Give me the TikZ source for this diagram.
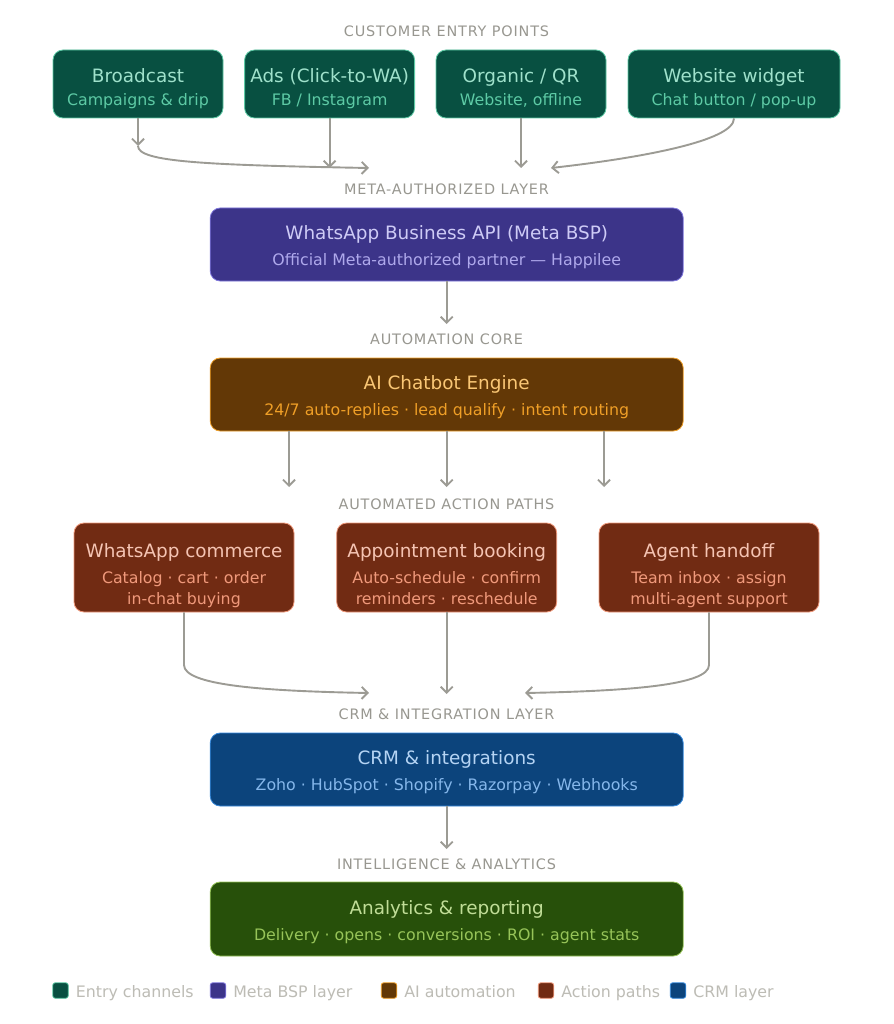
\documentclass[tikz,border=0pt]{standalone}
\usepackage{fontspec}
\setmainfont{DejaVu Sans}
\usetikzlibrary{arrows.meta}
\definecolor{entryfill}{HTML}{085041}
\definecolor{entryline}{HTML}{5DCAA5}
\definecolor{entrytitle}{HTML}{9FE1CB}
\definecolor{metafill}{HTML}{3C3489}
\definecolor{metaline}{HTML}{7F77DD}
\definecolor{metatitle}{HTML}{CECBF6}
\definecolor{metasub}{HTML}{AFA9EC}
\definecolor{corefill}{HTML}{633806}
\definecolor{coreline}{HTML}{EF9F27}
\definecolor{coretitle}{HTML}{FAC775}
\definecolor{pathfill}{HTML}{712B13}
\definecolor{pathline}{HTML}{F0997B}
\definecolor{pathtitle}{HTML}{F5C4B3}
\definecolor{crmfill}{HTML}{0C447C}
\definecolor{crmline}{HTML}{378ADD}
\definecolor{crmtitle}{HTML}{B5D4F4}
\definecolor{crmsub}{HTML}{85B7EB}
\definecolor{statfill}{HTML}{27500A}
\definecolor{statline}{HTML}{97C459}
\definecolor{stattitle}{HTML}{C0DD97}
\definecolor{seclabel}{HTML}{989790}
\definecolor{keylabel}{HTML}{BDBCB5}
\definecolor{flowline}{HTML}{9C9B94}
\newcommand{\boxhead}[3]{{\rule[-5pt]{0pt}{#1}\fontsize{18.4}{21}\selectfont\color{#2}#3}}
\tikzset{
  card/.style n args={3}{draw=#2,fill=#1,text=#3,font=\fontsize{15.8}{21}\selectfont,line width=.8pt,rounded corners=10pt,align=center,inner sep=0pt,anchor=center,execute at end node=\rule[-5pt]{0pt}{5pt}},
  seclab/.style={text=seclabel,font=\fontsize{14.4}{16}\selectfont\addfontfeatures{LetterSpace=5.8}},
  keybox/.style 2 args={draw=#2,fill=#1,line width=.8pt,rounded corners=2.5pt,minimum size=15.5pt,inner sep=0pt},
  keylab/.style={text=keylabel,anchor=west,inner sep=0pt,text height=12pt,text depth=3.5pt,xshift=7pt,yshift=-2.5pt,font=\fontsize{15.8}{17}\selectfont},
  flow/.style={draw=flowline,line width=1.9pt,-{Straight Barb[length=6pt,width=12pt,line width=1.9pt]}},
}
\begin{document}
\begin{tikzpicture}[x=1pt,y=-1pt]
  \useasboundingbox[fill=white](0,0)rectangle(893,1024);
  % section headings
  \node[seclab](secEntry)at(446.5,31){CUSTOMER ENTRY POINTS};
  \node[seclab](secMeta)at(446.5,189){META-AUTHORIZED LAYER};
  \node[seclab](secCore)at(446.5,339){AUTOMATION CORE};
  \node[seclab](secPath)at(446.5,504){AUTOMATED ACTION PATHS};
  \node[seclab](secCrm)at(446.5,714){CRM \& INTEGRATION LAYER};
  \node[seclab](secStat)at(446.5,864){INTELLIGENCE \& ANALYTICS};
  % entry channels
  \node[card={entryfill}{entryline}{entryline},minimum width=170pt,minimum height=68pt](nBroadcast)at(138,84){\boxhead{30pt}{entrytitle}{Broadcast}\\[2pt]Campaigns \& drip};
  \node[card={entryfill}{entryline}{entryline},minimum width=170pt,minimum height=68pt](nAds)at(329.6,84){\boxhead{30pt}{entrytitle}{Ads (Click-to-WA)}\\[2pt]FB / Instagram};
  \node[card={entryfill}{entryline}{entryline},minimum width=170pt,minimum height=68pt](nOrganic)at(521,84){\boxhead{30pt}{entrytitle}{Organic / QR}\\[2pt]Website, offline};
  \node[card={entryfill}{entryline}{entryline},minimum width=212pt,minimum height=68pt](nWidget)at(734,84){\boxhead{30pt}{entrytitle}{Website widget}\\[2pt]Chat button / pop-up};
  % wide layers
  \node[card={metafill}{metaline}{metasub},minimum width=473pt,minimum height=73pt](nApi)at(446.7,244.5){\boxhead{26pt}{metatitle}{WhatsApp Business API (Meta BSP)}\\[5pt]Official Meta-authorized partner — Happilee};
  \node[card={corefill}{coreline}{coreline},minimum width=473pt,minimum height=73pt](nEngine)at(446.7,394.5){\boxhead{26pt}{coretitle}{AI Chatbot Engine}\\[5pt]24/7 auto-replies · lead qualify · intent routing};
  % action paths
  \node[card={pathfill}{pathline}{pathline},minimum width=220pt,minimum height=89pt](nCommerce)at(184,567.5){\boxhead{37pt}{pathtitle}{WhatsApp commerce}\\[5pt]Catalog · cart · order\\in-chat buying};
  \node[card={pathfill}{pathline}{pathline},minimum width=220pt,minimum height=89pt](nBooking)at(446.7,567.5){\boxhead{37pt}{pathtitle}{Appointment booking}\\[5pt]Auto-schedule · confirm\\reminders · reschedule};
  \node[card={pathfill}{pathline}{pathline},minimum width=220pt,minimum height=89pt](nHandoff)at(709,567.5){\boxhead{37pt}{pathtitle}{Agent handoff}\\[5pt]Team inbox · assign\\multi-agent support};
  \node[card={crmfill}{crmline}{crmsub},minimum width=473pt,minimum height=73pt](nCrm)at(446.7,769.5){\boxhead{26pt}{crmtitle}{CRM \& integrations}\\[5pt]Zoho · HubSpot · Shopify · Razorpay · Webhooks};
  \node[card={statfill}{statline}{statline},minimum width=473pt,minimum height=74pt](nStat)at(446.7,919){\boxhead{26pt}{stattitle}{Analytics \& reporting}\\[5pt]Delivery · opens · conversions · ROI · agent stats};
  % free ends
  \coordinate(eBroadcast)at(138,146);
  \coordinate(eMetaL)at(369,168);
  \coordinate(eAds)at(329.6,168);
  \coordinate(eOrganic)at(521,168);
  \coordinate(eMetaR)at(551,168);
  \coordinate(eApi)at(446.7,324);
  \coordinate(ePathL)at(289,487);
  \coordinate(ePathM)at(446.7,487);
  \coordinate(ePathR)at(604,487);
  \coordinate(eCrmL)at(369,693);
  \coordinate(eCrmM)at(446.7,694);
  \coordinate(eCrmR)at(525,693);
  \coordinate(eCrm)at(446.7,849);
  % connectors
  \draw[flow](nBroadcast.south)--(eBroadcast);
  \draw[flow](eBroadcast)..controls(138,162)and(205,165)..(eMetaL);
  \draw[flow](nAds.south)--(eAds);
  \draw[flow](nOrganic.south)--(eOrganic);
  \draw[flow](nWidget.south)..controls(734,141)and(640,158)..(eMetaR);
  \draw[flow](nApi.south)--(eApi);
  \draw[flow](nEngine.south-|ePathL)--(ePathL);
  \draw[flow](nEngine.south)--(ePathM);
  \draw[flow](nEngine.south-|ePathR)--(ePathR);
  \draw[flow](nCommerce.south)--(184,665)..controls(184,685)and(260,691)..(eCrmL);
  \draw[flow](nBooking.south)--(eCrmM);
  \draw[flow](nHandoff.south)--(709,665)..controls(709,685)and(630,691)..(eCrmR);
  \draw[flow](nCrm.south)--(eCrm);
  % legend
  \node[keybox={entryfill}{entryline}](kEntry)at(60.5,990.5){};
  \node[keylab](tEntry)at(kEntry.east){Entry channels};
  \node[keybox={metafill}{metaline}](kMeta)at(218,990.5){};
  \node[keylab](tMeta)at(kMeta.east){Meta BSP layer};
  \node[keybox={corefill}{coreline}](kCore)at(389,990.5){};
  \node[keylab](tCore)at(kCore.east){AI automation};
  \node[keybox={pathfill}{pathline}](kPath)at(546,990.5){};
  \node[keylab](tPath)at(kPath.east){Action paths};
  \node[keybox={crmfill}{crmline}](kCrm)at(678,990.5){};
  \node[keylab](tCrm)at(kCrm.east){CRM layer};
\end{tikzpicture}
\end{document}
